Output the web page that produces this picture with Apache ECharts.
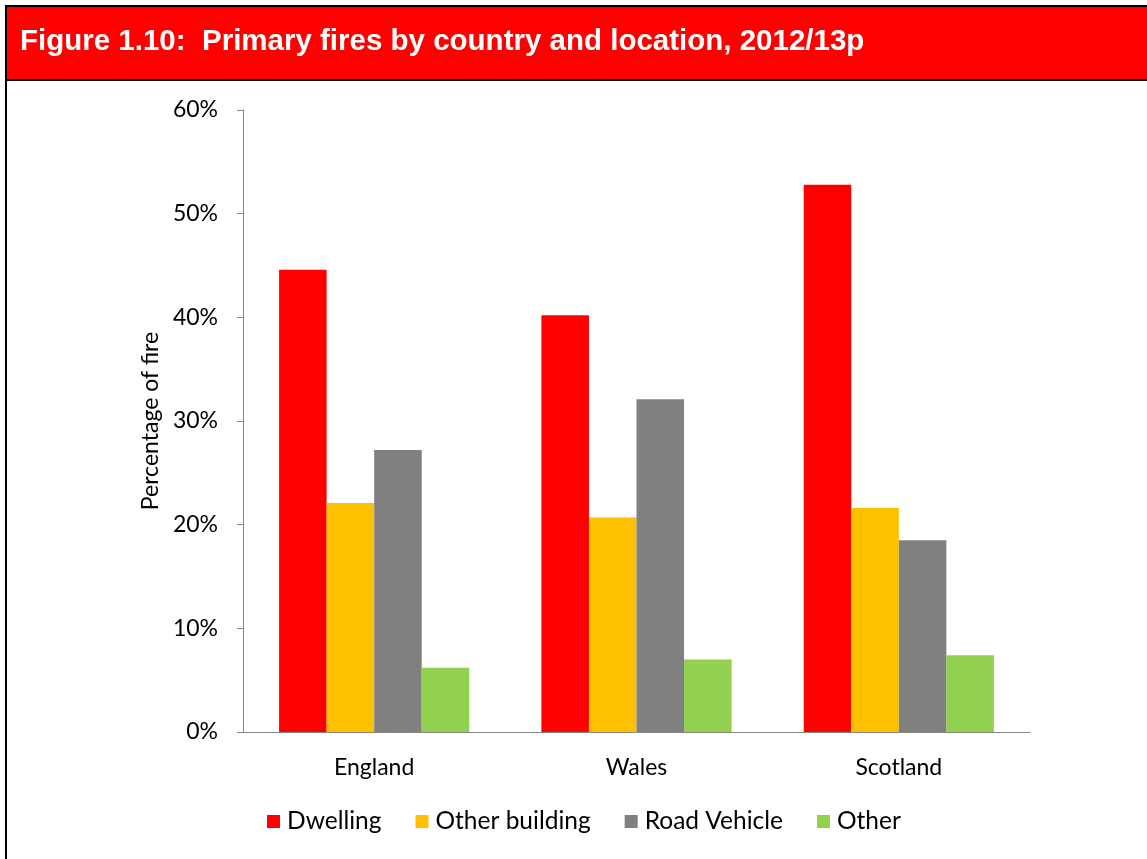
<!DOCTYPE html>
<html>
<head>
<meta charset="utf-8">
<script src="https://cdn.jsdelivr.net/npm/echarts@6/dist/echarts.min.js"></script>
<style>
  html, body { margin: 0; padding: 0; background: #fff; }
  #chart { width: 1147px; height: 859px; }
</style>
</head>
<body>
<div id="chart"></div>
<script>
const countries = ['England', 'Wales', 'Scotland']
const locations = ['Dwelling', 'Other building', 'Road Vehicle', 'Other']
// percentage of primary fires, one array per location
const dwelling = [44.6, 40.2, 52.8]
const otherBuilding = [22.1, 20.7, 21.6]
const roadVehicle = [27.2, 32.1, 18.5]
const other = [6.2, 7.0, 7.4]
const yTicks = [0, 10, 20, 30, 40, 50, 60]

const colors = ['#ff0000', '#ffc000', '#808080', '#92d050']
const seriesData = [dwelling, otherBuilding, roadVehicle, other]
const labelFont = 'Lato, "Open Sans", sans-serif'

let chart = echarts.init(document.getElementById('chart'))
chart.setOption({
  animation: false,
  grid: { left: 243, right: 117, top: 110, bottom: 127 },
  graphic: [
    {
      type: 'rect',
      shape: { x: 6, y: 6, width: 1160, height: 74 },
      style: { fill: '#ff0000', stroke: '#000', lineWidth: 2 },
    },
    {
      type: 'rect',
      shape: { x: 6, y: 6, width: 1160, height: 880 },
      style: { fill: 'none', stroke: '#000', lineWidth: 2 },
    },
    {
      type: 'text',
      left: 20,
      top: 27,
      style: {
        text: 'Figure 1.10:  Primary fires by country and location, 2012/13p',
        fill: '#fff',
        font: 'bold 29.5px "Liberation Sans", Arial, sans-serif',
      },
    },
  ],
  xAxis: {
    type: 'category',
    data: countries,
    axisLine: { lineStyle: { color: '#868686' } },
    axisTick: { length: 7, lineStyle: { color: '#868686' } },
    axisLabel: { color: '#000', fontSize: 23, fontFamily: labelFont, margin: 24 },
  },
  yAxis: {
    type: 'value',
    min: yTicks[0],
    max: yTicks[yTicks.length - 1],
    interval: 10,
    name: 'Percentage of fire',
    nameLocation: 'middle',
    nameGap: 79,
    nameTextStyle: { color: '#000', fontSize: 23, fontFamily: labelFont },
    axisLine: { show: true, lineStyle: { color: '#868686' } },
    axisTick: { show: true, length: 6, lineStyle: { color: '#868686' } },
    splitLine: { show: false },
    axisLabel: { color: '#000', fontSize: 23, fontFamily: labelFont, margin: 25, formatter: '{value}%' },
  },
  legend: {
    data: locations,
    bottom: 20,
    left: 262,
    icon: 'rect',
    itemWidth: 13,
    itemHeight: 13,
    itemGap: 34,
    textStyle: { color: '#000', fontSize: 24.5, fontFamily: labelFont, padding: [0, 0, 0, 2] },
  },
  series: locations.map((name, i) => ({
    name: name,
    type: 'bar',
    data: seriesData[i],
    barGap: '0%',
    barCategoryGap: '27.5%',
    itemStyle: { color: colors[i] },
  })),
})
</script>
</body>
</html>
